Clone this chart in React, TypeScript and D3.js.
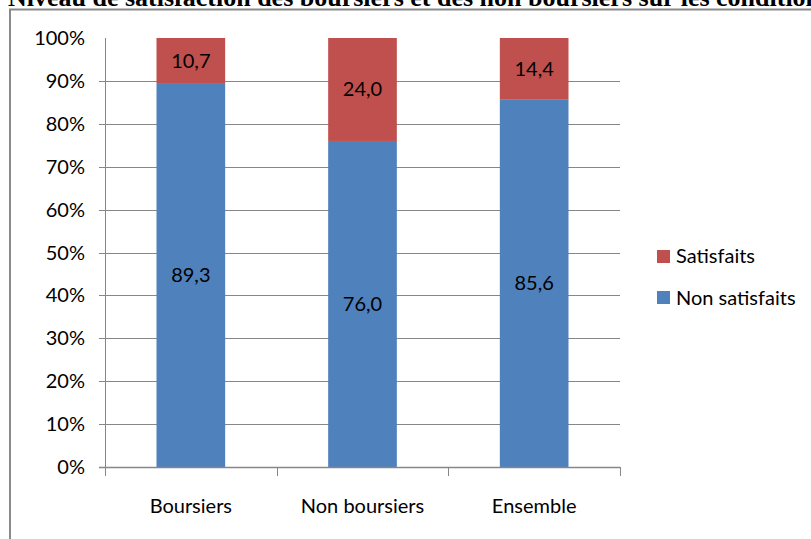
import React from "react";
import * as d3 from "d3";

const categories = ["Boursiers", "Non boursiers", "Ensemble"];
const nonSatisfaits = [89.3, 76.0, 85.6];
const satisfaits = [10.7, 24.0, 14.4];
const yTicks = [0, 10, 20, 30, 40, 50, 60, 70, 80, 90, 100];
const seriesNames = ["Satisfaits", "Non satisfaits"];
const title = "Niveau de satisfaction des boursiers et des non boursiers sur les conditions de logement";

const RED = "#C0504D";
const BLUE = "#4F81BD";
const GRID = "#878787";
const FONT = "Lato, 'Noto Sans', sans-serif";

export default function App() {
  const W = 811, H = 539;
  const left = 105, right = 620, top = 38, bottom = 467;
  const x = d3.scaleBand<string>().domain(categories).range([left, right]).paddingInner(0).paddingOuter(0);
  const y = d3.scaleLinear().domain([0, 100]).range([bottom, top]);
  const bw = x.bandwidth() * 0.4;
  const fmt = (v: number) => v.toFixed(1).replace(".", ",");
  const boundaries = [...categories.map((c) => x(c) as number), right];

  return (
    <svg width={W} height={H} style={{ position: "absolute", left: 0, top: 0, background: "#fff" }}>
      <text x={8} y={6} fontFamily="'Liberation Serif', 'Times New Roman', serif" fontWeight="bold" fontSize={26} fill="#000">
        {title}
      </text>
      <rect x={10} y={9.5} width={W + 20} height={H + 20} fill="none" stroke="#8a8a8a" strokeWidth={2} />
      {yTicks.filter((t) => t > 0 && t < 100).map((t) => (
        <line key={t} x1={left - 6} x2={right} y1={Math.round(y(t)) + 0.5} y2={Math.round(y(t)) + 0.5} stroke={GRID} strokeWidth={1} />
      ))}
      {categories.map((c, i) => {
        const cx = (x(c) as number) + x.bandwidth() / 2;
        const y0 = y(0), y1 = y(nonSatisfaits[i]), y2 = y(nonSatisfaits[i] + satisfaits[i]);
        return (
          <g key={c}>
            <rect x={cx - bw / 2} y={y1} width={bw} height={y0 - y1} fill={BLUE} />
            <rect x={cx - bw / 2} y={y2} width={bw} height={y1 - y2} fill={RED} />
            <text x={cx} y={(y0 + y1) / 2} dy="0.35em" textAnchor="middle" fontFamily={FONT} fontSize={20} fill="#000">{fmt(nonSatisfaits[i])}</text>
            <text x={cx} y={(y1 + y2) / 2} dy="0.35em" textAnchor="middle" fontFamily={FONT} fontSize={20} fill="#000">{fmt(satisfaits[i])}</text>
            <text x={cx} y={513} textAnchor="middle" fontFamily={FONT} fontSize={20} fill="#000">{c}</text>
          </g>
        );
      })}
      <line x1={left + 0.5} x2={left + 0.5} y1={top} y2={bottom} stroke={GRID} strokeWidth={1} />
      <line x1={left - 6} x2={right} y1={bottom + 0.5} y2={bottom + 0.5} stroke={GRID} strokeWidth={1.5} />
      {boundaries.map((b, i) => (
        <line key={i} x1={Math.round(b) + 0.5} x2={Math.round(b) + 0.5} y1={bottom} y2={bottom + 9} stroke={GRID} strokeWidth={1} />
      ))}
      {yTicks.map((t) => (
        <text key={t} x={85} y={y(t)} dy="0.35em" textAnchor="end" fontFamily={FONT} fontSize={20} fill="#000">{t}%</text>
      ))}
      {seriesNames.map((s, i) => (
        <g key={s}>
          <rect x={657} y={250 + i * 41} width={13} height={13} fill={i === 0 ? RED : BLUE} />
          <text x={676} y={263 + i * 42} fontFamily={FONT} fontSize={20} fill="#000">{s}</text>
        </g>
      ))}
    </svg>
  );
}
